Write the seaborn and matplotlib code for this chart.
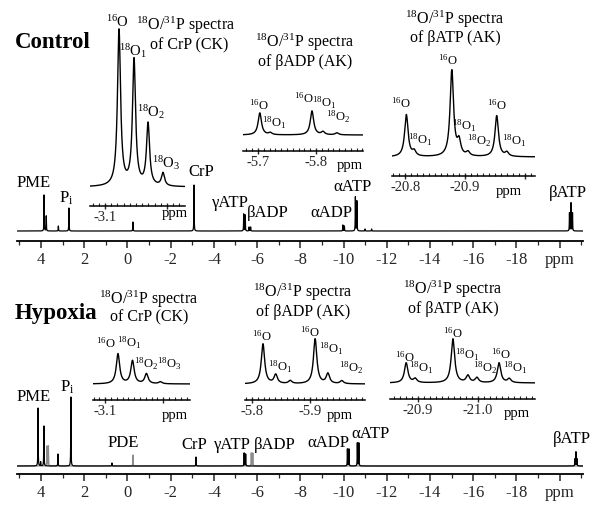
import numpy as np
import matplotlib
matplotlib.use("Agg")
import matplotlib.pyplot as plt
import seaborn as sns
from matplotlib.ticker import FixedLocator, MultipleLocator

# ---------------- data (peak positions in ppm, peak heights) ----------------
ctrl_main_ppm = [3.86, 3.76, 3.20, 2.71, -0.25, -3.08, -5.38, -5.45, -5.63, -5.70,
                 -9.97, -10.04, -10.55, -10.62, -11.0, -11.3, -20.46, -20.53, -20.60]
ctrl_main_int = [36, 15, 5, 23, 9, 46, 17, 16, 4, 4, 6, 5, 34, 30, 2, 2, 18, 28, 18]

hyp_main_ppm = [4.14, 4.02, 3.87, 3.22, 2.62, 0.72, -3.17, -5.40, -5.47,
                -10.18, -10.25, -10.64, -10.71, -20.71, -20.76, -20.81]
hyp_main_int = [58, 4, 40, 12, 69, 3, 9, 13, 12, 17, 17, 23, 23, 7, 14, 7]
hyp_gray_ppm = [3.73, 3.66, -0.25, -5.73, -5.80]
hyp_gray_int = [20, 20, 11, 13, 13]

ctrl_crp_ppm = [-3.1226, -3.1468, -3.1694, -3.1935]
ctrl_crp_int = [156, 126, 62, 13]
ctrl_badp_ppm = [-5.703, -5.721, -5.793, -5.812, -5.836]
ctrl_badp_int = [22, 2, 24, 3, 2]
ctrl_batp_ppm = [-20.802, -20.815, -20.878, -20.890, -20.905, -20.953, -20.970]
ctrl_batp_int = [42, 5, 86, 14, 4, 41, 4]

hyp_crp_ppm = [-3.122, -3.147, -3.171, -3.195]
hyp_crp_int = [30, 23, 10, 2]
hyp_badp_ppm = [-5.819, -5.841, -5.866, -5.909, -5.931, -5.955]
hyp_badp_int = [40, 9, 3, 45, 10, 3]
hyp_batp_ppm = [-20.880, -20.895, -20.958, -20.983, -20.998, -21.035, -21.052]
hyp_batp_int = [20, 4, 44, 7, 5, 20, 4]

# ---------------- style ----------------
sns.set_theme(style="white")
plt.rcParams["font.family"] = ["Liberation Serif", "DejaVu Serif"]
plt.rcParams["mathtext.fontset"] = "custom"
plt.rcParams["mathtext.rm"] = "Liberation Serif"
plt.rcParams["mathtext.it"] = "Liberation Serif:italic"
plt.rcParams["mathtext.bf"] = "Liberation Serif:bold"

W, H = 603, 508
fig = plt.figure(figsize=(W / 100, H / 100), dpi=100)


def spectrum(ppm, inten, lo, hi, width, n):
    x = np.linspace(lo, hi, n)
    y = np.zeros_like(x)
    for p, h in zip(ppm, inten):
        y += h / (1.0 + (2.0 * (x - p) / width) ** 2)
    return x, y


def make_ax(px0, px1, axis_y, base_y, top_y, xlim):
    ax = fig.add_axes([px0 / W, 1 - axis_y / H, (px1 - px0) / W, (axis_y - top_y) / H])
    ax.set_facecolor("none")
    ax.set_xlim(*xlim)
    ax.set_ylim(-(axis_y - base_y), base_y - top_y)
    for s in ["top", "left", "right"]:
        ax.spines[s].set_visible(False)
    ax.spines["bottom"].set_color("black")
    ax.set_yticks([])
    return ax


def draw(ax, ppm, inten, width, n, color="black", lw=0.9):
    lo, hi = ax.get_xlim()
    x, y = spectrum(ppm, inten, lo, hi, width, n)
    sns.lineplot(x=x, y=y, ax=ax, color=color, lw=lw, estimator=None, sort=False)
    ax.set_xlabel("")
    ax.set_ylabel("")


def txt(x, y, s, size=11, **kw):
    fig.text(x / W, 1 - y / H, s, ha="center", va="center", fontsize=size, color="black", **kw)


# ---------------- main spectra ----------------
main_ticks = [4, 2, 0, -2, -4, -6, -8, -10, -12, -14, -16, -18, -20]
main_labels = ["4", "2", "0", "-2", "-4", "-6", "-8", "-10", "-12", "-14", "-16", "-18", "ppm"]


def style_main(ax):
    ax.spines["bottom"].set_linewidth(1.3)
    ax.xaxis.set_major_locator(FixedLocator(main_ticks))
    ax.set_xticklabels(main_labels)
    ax.xaxis.set_minor_locator(MultipleLocator(1))
    ax.tick_params(axis="x", which="major", direction="out", length=5, width=1.1,
                   labelsize=12, pad=3, bottom=True)
    ax.tick_params(axis="x", which="minor", direction="out", length=3, width=0.9, bottom=True)


ax_c = make_ax(17.3, 583.3, 241, 231, 150, (5.1, -21.1))
draw(ax_c, ctrl_main_ppm, ctrl_main_int, 0.015, 40000, lw=0.9)
style_main(ax_c)

ax_h = make_ax(17.3, 583.3, 474, 466, 380, (5.1, -21.1))
draw(ax_h, hyp_gray_ppm, hyp_gray_int, 0.015, 40000, color="0.55", lw=0.9)
draw(ax_h, hyp_main_ppm, hyp_main_int, 0.015, 40000, lw=0.9)
style_main(ax_h)


# ---------------- insets ----------------
def style_inset(ax, majors, labels):
    ax.spines["bottom"].set_linewidth(1.1)
    ax.xaxis.set_major_locator(FixedLocator(majors))
    ax.set_xticklabels(labels)
    ax.xaxis.set_minor_locator(MultipleLocator(0.01))
    ax.tick_params(axis="x", which="major", direction="inout", length=5, width=1.0,
                   labelsize=10.5, pad=1, bottom=True)
    ax.tick_params(axis="x", which="minor", direction="in", length=2.5, width=0.8, bottom=True)


insets = [
    (90, 185, 206, 187, 15, (-3.0758, -3.229), ctrl_crp_ppm, ctrl_crp_int, 0.006,
     [-3.1, -3.2], ["-3.1", ""]),
    (243, 363, 151, 135, 95, (-5.674, -5.881), ctrl_badp_ppm, ctrl_badp_int, 0.007,
     [-5.7, -5.8], ["-5.7", "-5.8"]),
    (392, 535, 176, 157, 55, (-20.778, -21.017), ctrl_batp_ppm, ctrl_batp_int, 0.007,
     [-20.8, -20.9, -21.0], ["-20.8", "-20.9", ""]),
    (93, 190, 400, 384, 340, (-3.079, -3.246), hyp_crp_ppm, hyp_crp_int, 0.007,
     [-3.1, -3.2], ["-3.1", ""]),
    (245, 365, 400, 384, 325, (-5.788, -5.995), hyp_badp_ppm, hyp_badp_int, 0.007,
     [-5.8, -5.9], ["-5.8", "-5.9"]),
    (390, 535, 399, 383, 325, (-20.853, -21.095), hyp_batp_ppm, hyp_batp_int, 0.007,
     [-20.9, -21.0], ["-20.9", "-21.0"]),
]
for (p0, p1, ay, by, ty, xl, pp, ii, wd, mj, lb) in insets:
    ax = make_ax(p0, p1, ay, by, ty, xl)
    draw(ax, pp, ii, wd, 3000, lw=1.0)
    style_inset(ax, mj, lb)

# ---------------- text ----------------
T = r"$^{18}$O/$^{31}$P spectra"
O16 = r"$^{16}$O"
O18_1 = r"$^{18}$O$_1$"
O18_2 = r"$^{18}$O$_2$"
O18_3 = r"$^{18}$O$_3$"
S = 9  # peak label size

# Control
txt(53, 43, "Control", size=16.5, fontweight="bold")
txt(186, 25, T, size=11.5); txt(189, 45, "of CrP (CK)", size=11.5)
txt(305, 42, T, size=11.5); txt(305, 62, "of βADP (AK)", size=11.5)
txt(455, 19, T, size=11.5); txt(455, 38, "of βATP (AK)", size=11.5)
txt(175, 214, "ppm", size=10.5); txt(350, 166, "ppm", size=10.5); txt(509, 191, "ppm", size=10.5)
txt(117, 22, O16, size=10.5); txt(133, 51, O18_1, size=10.5)
txt(151, 112, O18_2, size=10.5); txt(166, 163, O18_3, size=10.5)
txt(259, 105, O16, size=S); txt(274, 123, O18_1, size=S)
txt(304, 98, O16, size=S); txt(324, 103, O18_1, size=S); txt(338, 117, O18_2, size=S)
txt(401, 103, O16, size=S); txt(420, 140, O18_1, size=S)
txt(448, 60, O16, size=S); txt(464, 126, O18_1, size=S); txt(479, 141, O18_2, size=S)
txt(497, 105, O16, size=S); txt(514, 141, O18_1, size=S)
txt(34, 183, "PME", size=12); txt(66, 198, r"P$_{\rm i}$", size=12)
txt(201, 172, "CrP", size=12); txt(230, 203, "γATP", size=12)
txt(268, 213, "βADP", size=12); txt(353, 187, "αATP", size=12)
txt(331, 213, "αADP", size=12); txt(568, 193, "βATP", size=12)

# Hypoxia
txt(56, 313, "Hypoxia", size=16.5, fontweight="bold")
txt(149, 299, T, size=11.5); txt(149, 317, "of CrP (CK)", size=11.5)
txt(303, 292, T, size=11.5); txt(303, 312, "of βADP (AK)", size=11.5)
txt(453, 289, T, size=11.5); txt(453, 309, "of βATP (AK)", size=11.5)
txt(175, 415, "ppm", size=10.5); txt(340, 415, "ppm", size=10.5); txt(517, 414, "ppm", size=10.5)
txt(106, 343, O16, size=S); txt(129, 343, O18_1, size=S)
txt(146, 364, O18_2, size=S); txt(169, 364, O18_3, size=S)
txt(262, 336, O16, size=S); txt(280, 367, O18_1, size=S)
txt(310, 332, O16, size=S); txt(331, 349, O18_1, size=S); txt(351, 368, O18_2, size=S)
txt(405, 357, O16, size=S); txt(421, 368, O18_1, size=S)
txt(453, 333, O16, size=S); txt(467, 355, O18_1, size=S); txt(485, 368, O18_2, size=S)
txt(501, 354, O16, size=S); txt(515, 368, O18_1, size=S)
txt(34, 397, "PME", size=12); txt(67, 387, r"P$_{\rm i}$", size=12)
txt(123, 443, "PDE", size=12); txt(194, 445, "CrP", size=12)
txt(232, 445, "γATP", size=12); txt(275, 445, "βADP", size=12)
txt(328, 443, "αADP", size=12); txt(371, 434, "αATP", size=12)
txt(572, 439, "βATP", size=12)

fig.savefig("out.png", dpi=100)
